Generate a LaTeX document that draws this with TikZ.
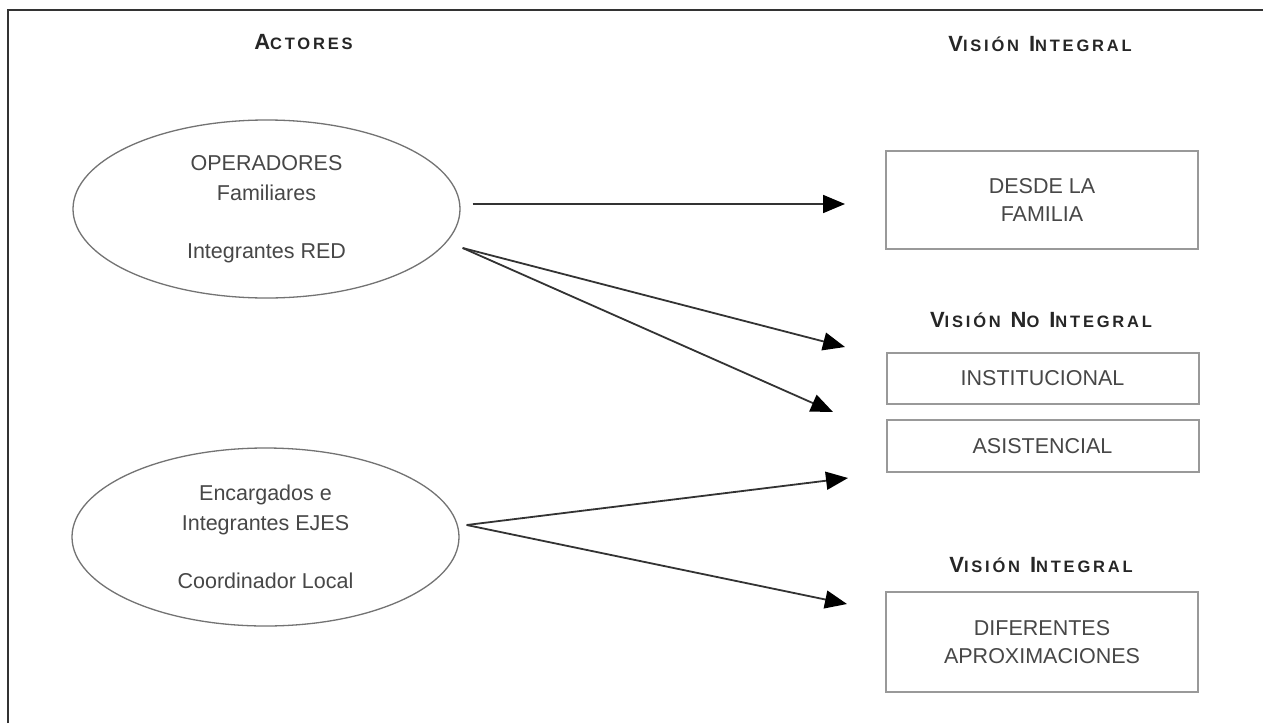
\documentclass[tikz,border=0pt]{standalone}
\usepackage{fontspec}
\setmainfont{Liberation Sans}
\newfontfamily\headfont[LetterSpace=17]{Liberation Sans}
\usetikzlibrary{shapes.geometric,arrows.meta,calc}

% small-caps style headings: large initial, smaller remaining capitals
\newcommand\hcap[1]{{\fontsize{22}{22}\selectfont #1}}
\newcommand\hsml[1]{{\fontsize{16.5}{16.5}\selectfont #1}}

\tikzset{
  frameline/.style={draw=black!80, line width=2pt},
  heading/.style={font=\headfont\bfseries, text=black!85, anchor=base, inner sep=0pt},
  actor/.style={ellipse, draw=black!55, line width=1.3pt, inner sep=0pt,
    minimum width=387pt, minimum height=178pt, align=center, text=black!72,
    font=\fontsize{21.5}{30}\selectfont},
  viewbox/.style={rectangle, draw=black!40, line width=2pt, inner sep=0pt,
    minimum width=312pt, align=center, text=black!72,
    font=\fontsize{21.5}{28}\selectfont},
  arr/.style={draw=black!80, line width=1.8pt,
    -{Triangle[length=22pt,width=18pt,color=black]}},
}

\begin{document}
\begin{tikzpicture}[x=1pt,y=-1pt]
\useasboundingbox (0,0) rectangle (1263,723);
\fill[white] (0,0) rectangle (1263,723);

% outer frame (top and left edges)
\draw[frameline] (7.5,723) -- (7.5,10) -- (1263,10);

% column headings
\node[heading] (hact) at (303.5,49) {\hcap{A}\hsml{CTORES}};
\node[heading] (hvi1) at (1040,51) {\hcap{V}\hsml{ISIÓN}\hcap{ I}\hsml{NTEGRAL}};
\node[heading] (hvni) at (1041,327) {\hcap{V}\hsml{ISIÓN}\hcap{ N}\hsml{O}\hcap{ I}\hsml{NTEGRAL}};
\node[heading] (hvi2) at (1041,572) {\hcap{V}\hsml{ISIÓN}\hcap{ I}\hsml{NTEGRAL}};

% actors
\node[actor] (op) at (266.5,209) {OPERADORES\\Familiares\\[28pt]Integrantes RED};
\node[actor] (en) at (265.5,537) {Encargados e\\Integrantes EJES\\[28pt]Coordinador Local};

% views
\node[viewbox, minimum height=98pt] (fam) at (1042,200) {DESDE LA\\FAMILIA};
\node[viewbox, minimum height=51pt] (ins) at (1042.5,378.5) {INSTITUCIONAL};
\node[viewbox, minimum height=52pt] (asi) at (1042.5,446) {ASISTENCIAL};
\node[viewbox, minimum height=100pt] (dif) at (1042,642) {DIFERENTES\\APROXIMACIONES};

% arrow tips
\coordinate (t1) at (845,204);
\coordinate (t2) at (845,347);
\coordinate (t3) at (833,412);
\coordinate (t4) at (848,478);
\coordinate (t5) at (847,604);

% connectors
\draw[arr] ($(op.east)+(12,-5)$) -- (t1);
\draw[arr] ($(op.east)+(2,39)$) -- (t2);
\draw[arr] ($(op.east)+(2,39)$) -- (t3);
\draw[arr] ($(en.east)+(7,-12)$) -- (t4);
\draw[arr] ($(en.east)+(7,-12)$) -- (t5);
\end{tikzpicture}
\end{document}
